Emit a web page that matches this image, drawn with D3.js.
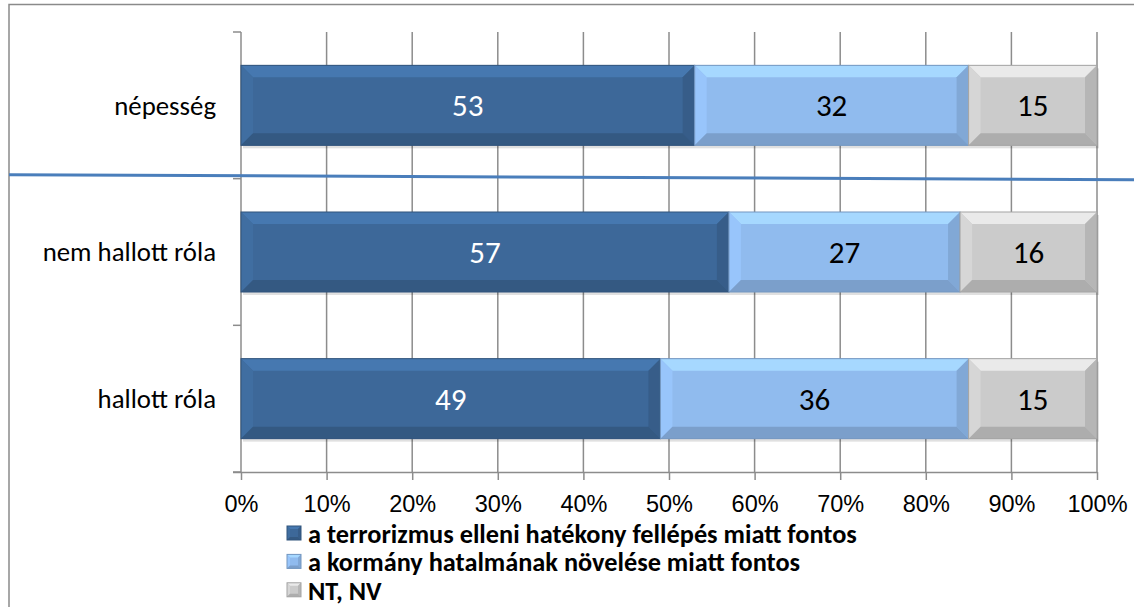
<!DOCTYPE html>
<html>
<head>
<meta charset="utf-8">
<script src="https://cdn.jsdelivr.net/npm/d3@7"></script>
<style>
  body { margin: 0; background: #fff; }
  svg { display: block; font-family: Carlito, Lato, "Open Sans", sans-serif; }
</style>
</head>
<body>
<div id="chart"></div>
<script>
// data
const categories = ['népesség', 'nem hallott róla', 'hallott róla'];
const seriesNames = [
    'a terrorizmus elleni hatékony fellépés miatt fontos',
    'a kormány hatalmának növelése miatt fontos',
    'NT, NV'
];
const terrorValues = [53, 57, 49];
const kormanyValues = [32, 27, 36];
const ntnvValues = [15, 16, 15];
const tickValues = [0, 10, 20, 30, 40, 50, 60, 70, 80, 90, 100];

const colors = ['#3d6899', '#90bbee', '#cbcbcb'];
const textColors = ['#ffffff', '#000000', '#000000'];

const width = 1134, height = 607;
const margin = { top: 32, right: 37, bottom: 135, left: 241 };

const svg = d3.select('#chart')
    .append('svg')
    .attr('width', width)
    .attr('height', height);

// outer frame (top and left edge visible)
svg.append('path')
    .attr('d', `M9,${height} V4.5 H${width}`)
    .attr('fill', 'none')
    .attr('stroke', '#8a8a8a')
    .attr('stroke-width', 1.5);

const x = d3.scaleLinear()
    .domain([0, 100])
    .range([margin.left, width - margin.right]);

const y = d3.scaleBand()
    .domain(categories)
    .range([margin.top, height - margin.bottom])
    .paddingInner(0.4545)
    .paddingOuter(0.2273);

const plotBottom = height - margin.bottom;

// vertical grid lines
svg.append('g')
    .selectAll('line')
    .data(tickValues.slice(1))
    .enter()
    .append('line')
    .attr('x1', d => x(d)).attr('x2', d => x(d))
    .attr('y1', margin.top).attr('y2', plotBottom)
    .attr('stroke', '#8c8c8c')
    .attr('stroke-width', 1.5);

// x axis
const xAxis = svg.append('g')
    .attr('transform', `translate(0,${plotBottom})`)
    .call(d3.axisBottom(x).tickValues(tickValues).tickFormat(d => d + '%').tickSize(8).tickPadding(15));
xAxis.select('.domain').attr('d', `M${margin.left - 8},0.5H${x(100)}`).attr('stroke', '#8c8c8c').attr('stroke-width', 1.5);
xAxis.selectAll('.tick line').attr('stroke', '#8c8c8c').attr('stroke-width', 1.5);
xAxis.selectAll('.tick text')
    .attr('fill', '#000')
    .style('font-size', '23.5px');

// y axis with tick marks between categories
const step = y.step();
const yTicks = d3.range(categories.length + 1).map(i => margin.top + i * step);
const yAxis = svg.append('g');
yAxis.append('line')
    .attr('x1', margin.left).attr('x2', margin.left)
    .attr('y1', margin.top).attr('y2', plotBottom)
    .attr('stroke', '#8c8c8c').attr('stroke-width', 1.5);
yAxis.selectAll('.ytick')
    .data(yTicks)
    .enter()
    .append('line')
    .attr('x1', margin.left - 8).attr('x2', margin.left)
    .attr('y1', d => d).attr('y2', d => d)
    .attr('stroke', '#8c8c8c').attr('stroke-width', 1.5);
yAxis.selectAll('text')
    .data(categories)
    .enter()
    .append('text')
    .attr('x', margin.left - 25)
    .attr('y', d => y(d) + y.bandwidth() / 2)
    .attr('dy', '0.35em')
    .attr('text-anchor', 'end')
    .style('font-size', '26.8px')
    .text(d => d);

// stacked rows
const rows = categories.map((c, i) => {
    const vals = [terrorValues[i], kormanyValues[i], ntnvValues[i]];
    let acc = 0;
    return vals.map((v, k) => {
        const seg = { cat: c, k: k, v: v, x0: acc, x1: acc + v };
        acc += v;
        return seg;
    });
});
const segments = rows.flat();

function bevel(g, x0, y0, w, h, color, b) {
    const c = d3.color(color);
    g.append('rect')
        .attr('x', x0).attr('y', y0).attr('width', w).attr('height', h)
        .attr('fill', color);
    const faces = [
        { pts: [[x0, y0], [x0 + w, y0], [x0 + w - b, y0 + b], [x0 + b, y0 + b]], f: c.brighter(0.4) },
        { pts: [[x0, y0], [x0 + b, y0 + b], [x0 + b, y0 + h - b], [x0, y0 + h]], f: c.brighter(0.15) },
        { pts: [[x0 + w, y0], [x0 + w, y0 + h], [x0 + w - b, y0 + h - b], [x0 + w - b, y0 + b]], f: c.darker(0.3) },
        { pts: [[x0, y0 + h], [x0 + b, y0 + h - b], [x0 + w - b, y0 + h - b], [x0 + w, y0 + h]], f: c.darker(0.45) }
    ];
    g.selectAll(null)
        .data(faces)
        .enter()
        .append('polygon')
        .attr('points', d => d.pts.map(p => p.join(',')).join(' '))
        .attr('fill', d => d.f);
    g.append('rect')
        .attr('x', x0).attr('y', y0).attr('width', w).attr('height', h)
        .attr('fill', 'none')
        .attr('stroke', c.darker(0.6))
        .attr('stroke-width', 1);
}

const barG = svg.append('g');
segments.forEach(s => {
    const g = barG.append('g');
    // soft shadow
    g.append('rect')
        .attr('x', x(s.x0) + 2).attr('y', y(s.cat) + 3)
        .attr('width', x(s.x1) - x(s.x0)).attr('height', y.bandwidth())
        .attr('fill', '#000').attr('opacity', 0.12);
    bevel(g, x(s.x0), y(s.cat), x(s.x1) - x(s.x0), y.bandwidth(), colors[s.k], 12);
    g.append('text')
        .attr('x', (x(s.x0) + x(s.x1)) / 2)
        .attr('y', y(s.cat) + y.bandwidth() / 2)
        .attr('dy', '0.36em')
        .attr('text-anchor', 'middle')
        .attr('fill', textColors[s.k])
        .style('font-size', '31px')
        .text(s.v);
});

// hand-drawn divider line between the first and second row
const divY = margin.top + step;
svg.append('line')
    .attr('x1', 9).attr('y1', divY - 4)
    .attr('x2', width).attr('y2', divY + 1)
    .attr('stroke', '#4a7ebb')
    .attr('stroke-width', 3);

// legend
const legend = svg.append('g')
    .attr('transform', 'translate(287,543)');
const items = legend.selectAll('g')
    .data(seriesNames)
    .enter()
    .append('g')
    .attr('transform', (d, i) => `translate(0,${i * 28.4})`);
items.each(function (d, i) {
    bevel(d3.select(this), 0, -17, 14, 14, colors[i], 3);
});
items.append('text')
    .attr('x', 21)
    .style('font-size', '26.3px')
    .style('font-weight', 'bold')
    .text(d => d);
</script>
</body>
</html>
